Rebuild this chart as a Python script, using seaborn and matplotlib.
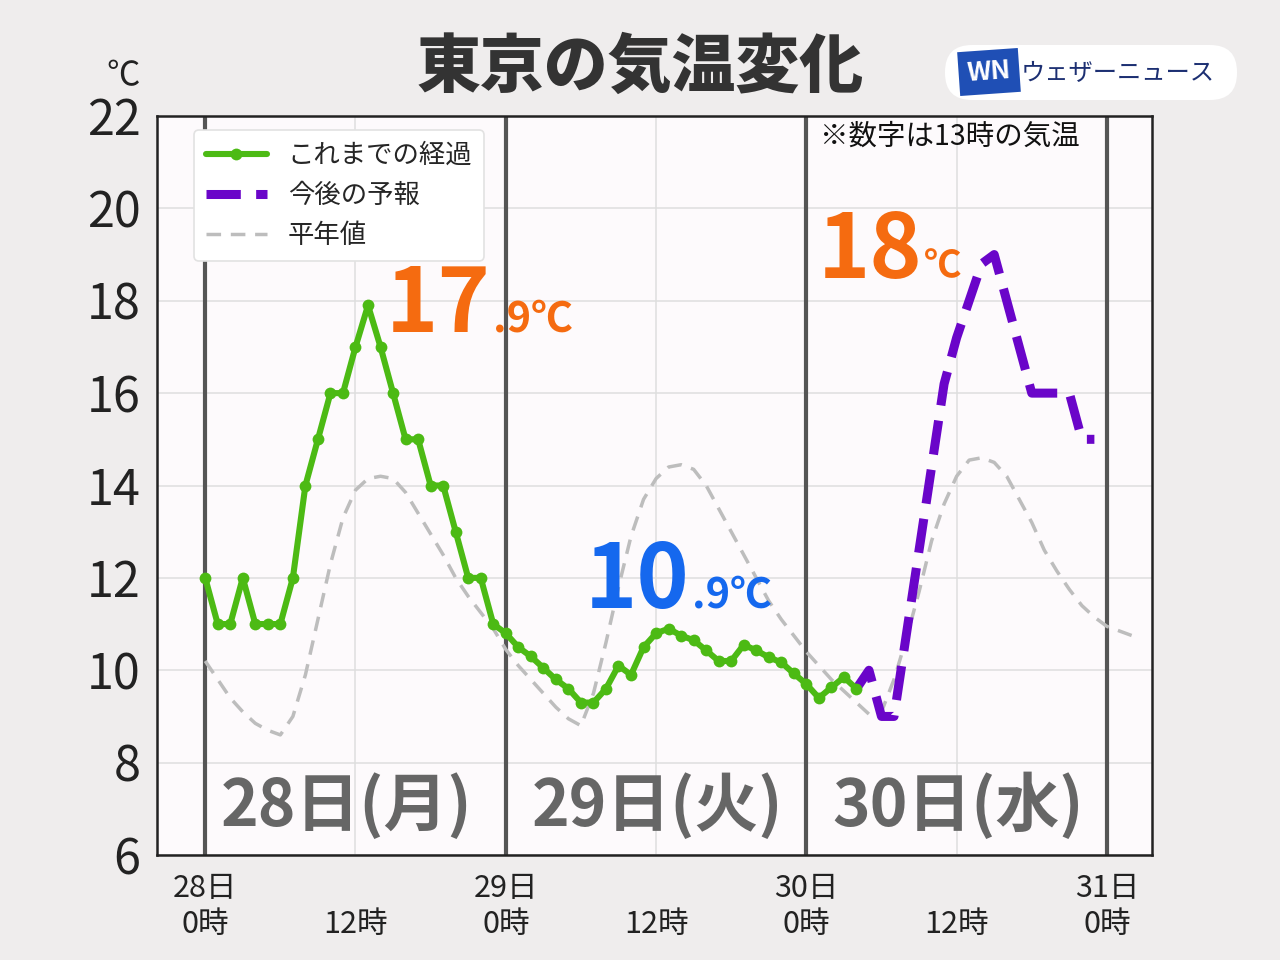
import matplotlib
matplotlib.use("Agg")
import matplotlib.pyplot as plt
import matplotlib.patches as mpatches
import matplotlib.transforms as mtransforms
import seaborn as sns
import pandas as pd
import numpy as np

# ---------------- data ----------------
hours_obs = list(range(0, 53))
temp_obs = [12, 11, 11, 12, 11, 11, 11, 12, 14, 15, 16, 16, 17, 17.9, 17, 16, 15, 15, 14, 14,
            13, 12, 12, 11, 10.8, 10.5, 10.3, 10.05, 9.8, 9.6, 9.3, 9.3, 9.6, 10.1, 9.9, 10.5,
            10.8, 10.9, 10.75, 10.65, 10.43, 10.2, 10.2, 10.55, 10.43, 10.28, 10.17, 9.93, 9.7,
            9.4, 9.63, 9.85, 9.6]
hours_fc = list(range(52, 72))
temp_fc = [9.6, 10, 9, 9, 10.8, 12.6, 14.4, 16.2, 17.2, 18.0, 18.8, 19.0, 18, 17, 16, 16,
           16, 16, 15, 15]
hours_norm = list(range(0, 75))
temp_norm = [10.2, 9.8, 9.4, 9.1, 8.85, 8.7, 8.6, 9.0, 9.9, 11.1, 12.3, 13.3, 13.9, 14.15,
             14.2, 14.15, 13.85, 13.4, 12.95, 12.5, 12.0, 11.6, 11.25, 10.9,
             10.45, 10.1, 9.8, 9.5, 9.2, 8.95, 8.8, 9.5, 10.6, 11.8, 12.9, 13.7, 14.15, 14.4,
             14.45, 14.35, 14.0, 13.5, 13.0, 12.5, 12.0, 11.5, 11.1, 10.75,
             10.4, 10.1, 9.8, 9.55, 9.3, 9.05, 9.1, 9.8, 10.7, 11.7, 12.8, 13.6, 14.2, 14.55,
             14.6, 14.5, 14.2, 13.7, 13.2, 12.6, 12.15, 11.75, 11.4, 11.15, 10.95, 10.85, 10.75]

series_labels = ["これまでの経過", "今後の予報", "平年値"]
day_labels = ["28日(月)", "29日(火)", "30日(水)"]
xtick_pos = [0, 12, 24, 36, 48, 60, 72]
xtick_labels = ["28日\n0時", "\n12時", "29日\n0時", "\n12時", "30日\n0時", "\n12時", "31日\n0時"]
ytick_vals = [6, 8, 10, 12, 14, 16, 18, 20, 22]
obs_max_int, obs_max_dec = "17", ".9℃"
obs_min_int, obs_min_dec = "10", ".9℃"
fc_max_int, fc_max_unit = "18", "℃"
note_text = "※数字は13時の気温"
title_text = "東京の気温変化"
brand_text = "ウェザーニュース"

# ---------------- style ----------------
sns.set_style("white")
plt.rcParams['font.family'] = ['Noto Sans CJK JP', 'DejaVu Sans']

GREEN = "#4cba14"
PURPLE = "#6a05c9"
GRAY = "#bdbdbd"
ORANGE = "#f56b10"
BLUE = "#1568ee"
DAYLINE = "#555555"

fig = plt.figure(figsize=(12.8, 9.6), dpi=100, facecolor="#efeded")
ax = fig.add_axes([157/1280, 1-855/960, (1152-157)/1280, (855-116)/960])
ax.set_facecolor("#fdfafc")

df_obs = pd.DataFrame({"hour": hours_obs, "temp": temp_obs})
df_fc = pd.DataFrame({"hour": hours_fc, "temp": temp_fc})
df_norm = pd.DataFrame({"hour": hours_norm, "temp": temp_norm})

sns.lineplot(data=df_norm, x="hour", y="temp", ax=ax, color=GRAY, linewidth=2.5,
             linestyle=(0, (4.2, 2.8)), label=series_labels[2], zorder=3)
sns.lineplot(data=df_obs, x="hour", y="temp", ax=ax, color=GREEN, linewidth=4.4,
             marker="o", markersize=8.5, markeredgewidth=0, label=series_labels[0], zorder=5)
sns.lineplot(data=df_fc, x="hour", y="temp", ax=ax, color=PURPLE, linewidth=6.5,
             linestyle=(0, (3.8, 1.7)), label=series_labels[1], zorder=4)

for d in [0, 24, 48, 72]:
    ax.axvline(d, color=DAYLINE, linewidth=3, zorder=2)

ax.set_xlim(-3.85, 75.6)
ax.set_ylim(6, 22)
ax.set_xticks(xtick_pos)
ax.set_xticklabels(xtick_labels, fontsize=22, color="#222222", linespacing=1.2)
ax.set_xticks(range(-3, 76), minor=True)
ax.set_yticks(ytick_vals)
ax.set_yticklabels([str(v) for v in ytick_vals], fontsize=35, color="#222222")
ax.set_yticks(np.arange(6, 22.5, 1), minor=True)
ax.tick_params(axis="x", which="major", length=12, width=1.5, direction="out", pad=1)
ax.tick_params(axis="x", which="minor", length=5, width=1, direction="out")
ax.tick_params(axis="y", which="major", length=9, width=1.5, direction="out", pad=3)
ax.tick_params(axis="y", which="minor", length=4, width=1, direction="out")
ax.set_xlabel("")
ax.set_ylabel("")
ax.grid(True, which="major", color="#dedede", linewidth=1.1, zorder=0)
ax.set_axisbelow(True)
for sp in ax.spines.values():
    sp.set_color("#222222")
    sp.set_linewidth(1.8)

# legend
handles, labels = ax.get_legend_handles_labels()
order = [labels.index(l) for l in series_labels]
leg = ax.legend([handles[i] for i in order], [labels[i] for i in order],
                loc="upper left", bbox_to_anchor=(0.024, 0.999), fontsize=19,
                frameon=True, fancybox=True, framealpha=1, edgecolor="#e2e2e2",
                handlelength=2.3, handletextpad=0.8, labelspacing=0.5,
                borderpad=0.45, numpoints=1)
leg.get_frame().set_linewidth(1.2)
leg.set_zorder(10)

# day labels
for lbl, cx in zip(day_labels, [11.3, 36.1, 60.1]):
    ax.text(cx, 7.05, lbl, ha="center", va="center", fontsize=46, fontweight="bold",
            color="#666666", zorder=6)

# value annotations
ax.text(14.4, 17.33, obs_max_int, fontsize=64, fontweight="bold", color=ORANGE,
        ha="left", va="baseline", zorder=7)
ax.text(23.0, 17.33, obs_max_dec, fontsize=30, fontweight="bold", color=ORANGE,
        ha="left", va="baseline", zorder=7)
ax.text(30.3, 11.35, obs_min_int, fontsize=64, fontweight="bold", color=BLUE,
        ha="left", va="baseline", zorder=7)
ax.text(38.9, 11.35, obs_min_dec, fontsize=30, fontweight="bold", color=BLUE,
        ha="left", va="baseline", zorder=7)
ax.text(48.9, 18.5, fc_max_int, fontsize=64, fontweight="bold", color=ORANGE,
        ha="left", va="baseline", zorder=7)
ax.text(57.4, 18.5, fc_max_unit, fontsize=27, fontweight="bold", color=ORANGE,
        ha="left", va="baseline", zorder=7)
ax.text((820-157)/995, (855-122)/739, note_text, transform=ax.transAxes, fontsize=20.5,
        color="#111111", ha="left", va="top", zorder=7)

# title, unit, brand
fig.text(0.5, 1-68/960, title_text, ha="center", va="center", fontsize=46,
         fontweight="heavy", color="#333333")
fig.text(123/1280, 1-76/960, "℃", ha="center", va="center", fontsize=24, color="#222222")

box = mpatches.FancyBboxPatch((945, 960 - 100), 292, 55,
                              boxstyle="round,pad=0,rounding_size=27",
                              transform=mtransforms.IdentityTransform(),
                              fc="white", ec="none")
fig.patches.append(box)
fig.text(1021/1280, 1-73/960, brand_text, ha="left", va="center",
         fontsize=17.5, color="#1c2f72")
fig.text(989/1280, 1-72/960, "WN", ha="center", va="center", fontsize=19,
         fontweight="bold", style="italic", color="white", rotation=4,
         bbox=dict(boxstyle="square,pad=0.32", fc="#1f4fb5", ec="none"))

fig.savefig("out.png", dpi=100, facecolor=fig.get_facecolor())
